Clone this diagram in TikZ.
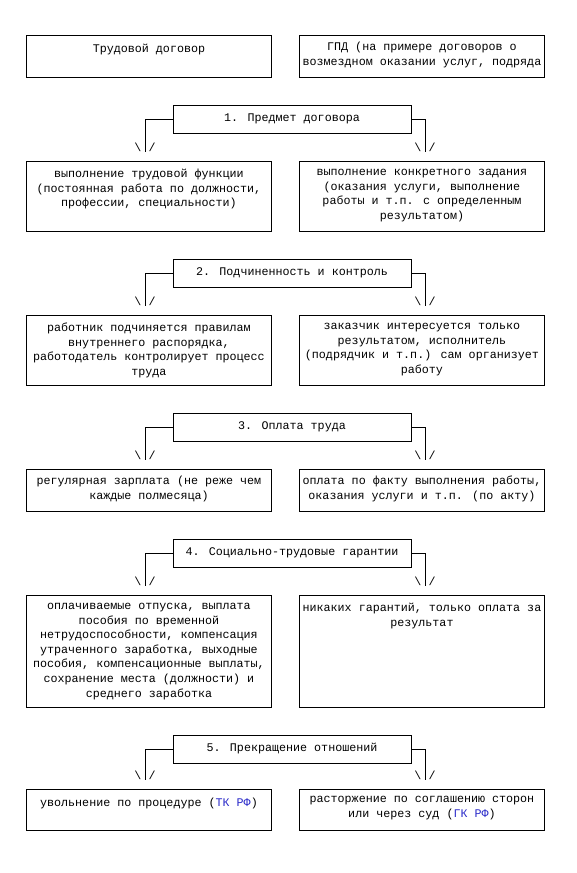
\documentclass[tikz,border=0pt]{standalone}
\usepackage{fontspec}
\setmainfont{Liberation Mono}
\definecolor{linkblue}{RGB}{40,40,200}
\tikzset{
  txtfont/.style={font=\fontsize{11.7}{14.6}\selectfont},
  cell/.style={draw, line width=0.9pt, anchor=north west, minimum width=245pt,
    minimum height=#1, inner sep=0pt},
  celltext/.style={txtfont, anchor=north, align=center, inner sep=0pt,
    execute at begin node=\strut},
  head/.style={txtfont, draw, line width=0.9pt, minimum width=238pt,
    minimum height=28pt, inner sep=0pt},
  bracket/.style={line width=0.9pt},
  tiptext/.style={txtfont, inner sep=0pt}
}
\begin{document}
\begin{tikzpicture}[x=1pt, y=-1pt]
    \useasboundingbox (0,0) rectangle (576,873);

    % Шапка
    \node[cell=42pt] (td0) at (26,35) {};
    \node[celltext] at ([yshift=-7pt]td0.north) {Трудовой договор};
    \node[cell=42pt] (gpd0) at (299,35) {};
    \node[celltext] at ([yshift=-7pt]gpd0.north) {ГПД (на примере договоров о\\возмездном оказании услуг, подряда};

    % 1. Предмет договора
    \node[head] (h1) at (292,119) {1. Предмет договора};
    \coordinate (aL1) at (145,152);
    \coordinate (aR1) at (425,152);
    \draw[bracket] (h1.west) -| (aL1);
    \draw[bracket] (h1.east) -| (aR1);
    \node[tiptext] at ([yshift=5pt]aL1) {\textbackslash\ /};
    \node[tiptext] at ([yshift=5pt]aR1) {\textbackslash\ /};
    \node[cell=70pt] (td1) at (26,161) {};
    \node[celltext] at ([yshift=-8pt]td1.north) {выполнение трудовой функции\\(постоянная работа по должности,\\профессии, специальности)};
    \node[cell=70pt] (gpd1) at (299,161) {};
    \node[celltext] at ([yshift=-8pt]gpd1.north) {выполнение конкретного задания\\(оказания услуги, выполнение\\работы и т.п. с определенным\\результатом)};

    % 2. Подчиненность и контроль
    \node[head] (h2) at (292,273) {2. Подчиненность и контроль};
    \coordinate (aL2) at (145,306);
    \coordinate (aR2) at (425,306);
    \draw[bracket] (h2.west) -| (aL2);
    \draw[bracket] (h2.east) -| (aR2);
    \node[tiptext] at ([yshift=5pt]aL2) {\textbackslash\ /};
    \node[tiptext] at ([yshift=5pt]aR2) {\textbackslash\ /};
    \node[cell=70pt] (td2) at (26,315) {};
    \node[celltext] at ([yshift=-8pt]td2.north) {работник подчиняется правилам\\внутреннего распорядка,\\работодатель контролирует процесс\\труда};
    \node[cell=70pt] (gpd2) at (299,315) {};
    \node[celltext] at ([yshift=-8pt]gpd2.north) {заказчик интересуется только\\результатом, исполнитель\\(подрядчик и т.п.) сам организует\\работу};

    % 3. Оплата труда
    \node[head] (h3) at (292,427) {3. Оплата труда};
    \coordinate (aL3) at (145,460);
    \coordinate (aR3) at (425,460);
    \draw[bracket] (h3.west) -| (aL3);
    \draw[bracket] (h3.east) -| (aR3);
    \node[tiptext] at ([yshift=5pt]aL3) {\textbackslash\ /};
    \node[tiptext] at ([yshift=5pt]aR3) {\textbackslash\ /};
    \node[cell=42pt] (td3) at (26,469) {};
    \node[celltext] at ([yshift=-7pt]td3.north) {регулярная зарплата (не реже чем\\каждые полмесяца)};
    \node[cell=42pt] (gpd3) at (299,469) {};
    \node[celltext] at ([yshift=-7pt]gpd3.north) {оплата по факту выполнения работы,\\оказания услуги и т.п. (по акту)};

    % 4. Социально-трудовые гарантии
    \node[head] (h4) at (292,553) {4. Социально-трудовые гарантии};
    \coordinate (aL4) at (145,586);
    \coordinate (aR4) at (425,586);
    \draw[bracket] (h4.west) -| (aL4);
    \draw[bracket] (h4.east) -| (aR4);
    \node[tiptext] at ([yshift=5pt]aL4) {\textbackslash\ /};
    \node[tiptext] at ([yshift=5pt]aR4) {\textbackslash\ /};
    \node[cell=112pt] (td4) at (26,595) {};
    \node[celltext] at ([yshift=-8pt]td4.north) {оплачиваемые отпуска, выплата\\пособия по временной\\нетрудоспособности, компенсация\\утраченного заработка, выходные\\пособия, компенсационные выплаты,\\сохранение места (должности) и\\среднего заработка};
    \node[cell=112pt] (gpd4) at (299,595) {};
    \node[celltext] at ([yshift=-8pt]gpd4.north) {никаких гарантий, только оплата за\\результат};

    % 5. Прекращение отношений
    \node[head] (h5) at (292,749) {5. Прекращение отношений};
    \coordinate (aL5) at (145,780);
    \coordinate (aR5) at (425,780);
    \draw[bracket] (h5.west) -| (aL5);
    \draw[bracket] (h5.east) -| (aR5);
    \node[tiptext] at ([yshift=5pt]aL5) {\textbackslash\ /};
    \node[tiptext] at ([yshift=5pt]aR5) {\textbackslash\ /};
    \node[cell=41pt] (td5) at (26,789) {};
    \node[celltext] at ([yshift=-7pt]td5.north) {увольнение по процедуре (\textcolor{linkblue}{ТК РФ})};
    \node[cell=41pt] (gpd5) at (299,789) {};
    \node[celltext] at ([yshift=-7pt]gpd5.north) {расторжение по соглашению сторон\\или через суд (\textcolor{linkblue}{ГК РФ})};
\end{tikzpicture}
\end{document}
